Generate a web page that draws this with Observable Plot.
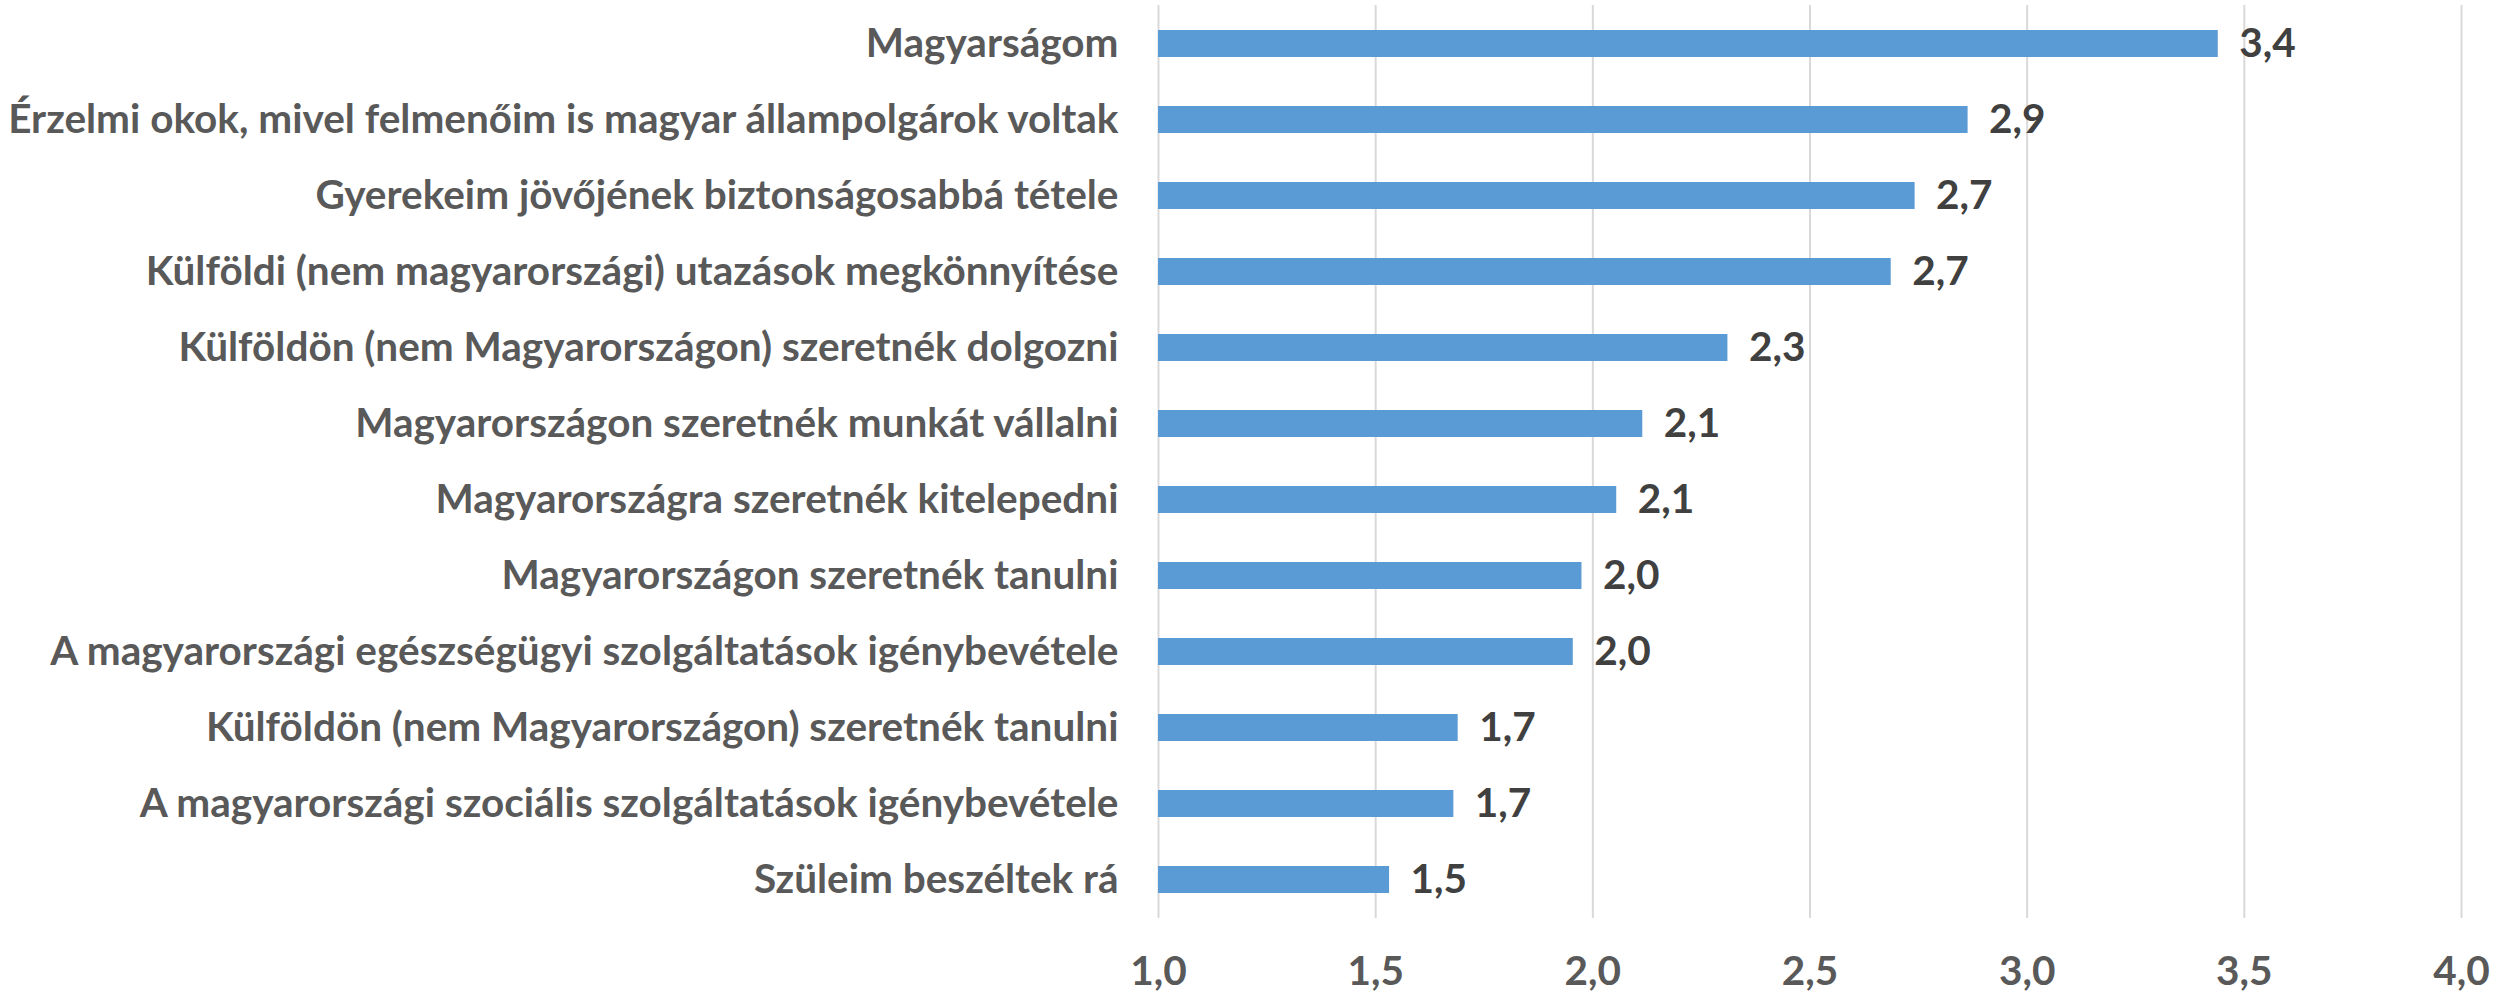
<!DOCTYPE html>
<html>
<head>
<meta charset="utf-8">
<script src="https://cdn.jsdelivr.net/npm/d3@7"></script>
<script src="https://cdn.jsdelivr.net/npm/@observablehq/plot@0.6"></script>
<style>
  html, body { margin: 0; padding: 0; background: #fff; }
</style>
</head>
<body>
<div id="chart"></div>
<script>
const categories = [
  "Magyarságom",
  "Érzelmi okok, mivel felmenőim is magyar állampolgárok voltak",
  "Gyerekeim jövőjének biztonságosabbá tétele",
  "Külföldi (nem magyarországi) utazások megkönnyítése",
  "Külföldön (nem Magyarországon) szeretnék dolgozni",
  "Magyarországon szeretnék munkát vállalni",
  "Magyarországra szeretnék kitelepedni",
  "Magyarországon szeretnék tanulni",
  "A magyarországi egészségügyi szolgáltatások igénybevétele",
  "Külföldön (nem Magyarországon) szeretnék tanulni",
  "A magyarországi szociális szolgáltatások igénybevétele",
  "Szüleim beszéltek rá"
];
const values = [3.44, 2.864, 2.742, 2.687, 2.311, 2.115, 2.055, 1.975, 1.955, 1.69, 1.68, 1.532];
const xTicks = [1.0, 1.5, 2.0, 2.5, 3.0, 3.5, 4.0];

const data = categories.map((c, i) => ({category: c, value: values[i]}));
const fmt = (d) => d.toFixed(1).replace(".", ",");

const FONT = "Lato, 'Open Sans', sans-serif";
const FS = 40.5;

const chart = Plot.plot({
  width: 2504,
  height: 993,
  marginLeft: 1158,
  marginRight: 43,
  marginTop: 5,
  marginBottom: 75,
  style: {fontFamily: FONT, fontSize: FS + "px", fontWeight: "bold", color: "#595959", background: "#fff"},
  x: {domain: [1, 4], ticks: xTicks},
  y: {domain: categories, paddingInner: 0.645, paddingOuter: 0.3225},
  marks: [
    Plot.gridX(xTicks, {stroke: "#d9d9d9", strokeOpacity: 1, strokeWidth: 2}),
    Plot.barX(data, {x1: 1, x2: "value", y: "category", fill: "#5b9bd5"}),
    Plot.text(data, {
      x: "value", y: "category", text: (d) => fmt(d.value),
      dx: 21, textAnchor: "start", fill: "#404040",
      fontSize: FS, fontWeight: "bold", fontFamily: FONT
    }),
    Plot.axisX(xTicks, {tickSize: 0, tickPadding: 38, tickFormat: fmt, fontSize: FS, fontWeight: "bold", label: null}),
    Plot.axisY({tickSize: 0, tickPadding: 40, fontSize: FS, fontWeight: "bold", label: null})
  ]
});
document.getElementById("chart").appendChild(chart);
</script>
</body>
</html>
